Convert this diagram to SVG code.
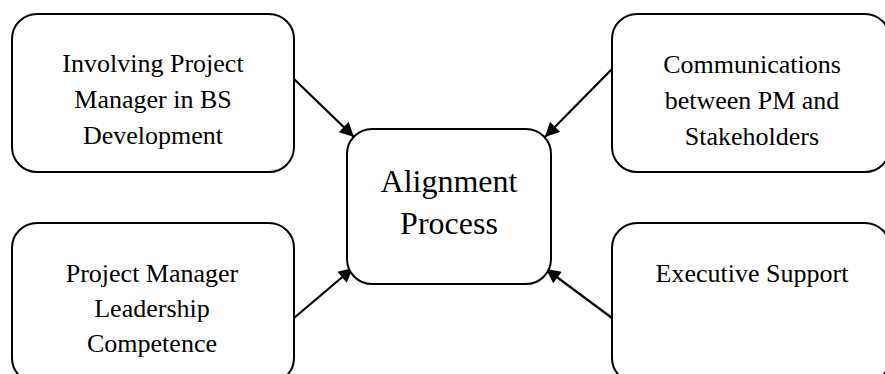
<svg xmlns="http://www.w3.org/2000/svg" width="885" height="374" viewBox="0 0 885 374">
<defs>
<style>
.box{fill:#fff;stroke:#000;stroke-width:2}
.t{font-family:"Liberation Serif","Times New Roman",serif;font-size:26px;fill:#000;text-anchor:middle}
.tc{font-family:"Liberation Serif","Times New Roman",serif;font-size:32px;fill:#000;text-anchor:middle}
.c{stroke:#000;stroke-width:2.2;fill:none;marker-end:url(#ah)}
</style>
<marker id="ah" viewBox="0 0 10 10" refX="10" refY="5" markerWidth="7" markerHeight="6.5" markerUnits="strokeWidth" orient="auto">
<path d="M0,0 L10,5 L0,10 z" fill="#000"/>
</marker>
</defs>
<rect width="885" height="374" fill="#fff"/>
<g id="connectors">
<line class="c" x1="294" y1="79" x2="354" y2="137"/>
<line class="c" x1="612" y1="69" x2="545" y2="137"/>
<line class="c" x1="294" y1="318" x2="353" y2="268"/>
<line class="c" x1="612" y1="318" x2="546" y2="269"/>
</g>
<g id="node-involving">
<rect class="box" x="12" y="14" width="282" height="158" rx="25"/>
<text class="t" x="153" y="72">Involving Project</text>
<text class="t" x="153" y="108">Manager in BS</text>
<text class="t" x="153" y="144">Development</text>
</g>
<g id="node-communications">
<rect class="box" x="612" y="14" width="278" height="158" rx="25"/>
<text class="t" x="752" y="73">Communications</text>
<text class="t" x="752" y="109">between PM and</text>
<text class="t" x="752" y="145">Stakeholders</text>
</g>
<g id="node-leadership">
<rect class="box" x="12" y="223" width="282" height="160" rx="25"/>
<text class="t" x="152" y="282">Project Manager</text>
<text class="t" x="152" y="317">Leadership</text>
<text class="t" x="152" y="352">Competence</text>
</g>
<g id="node-executive">
<rect class="box" x="612" y="223" width="278" height="160" rx="25"/>
<text class="t" x="752" y="282">Executive Support</text>
</g>
<g id="node-alignment">
<rect class="box" x="347" y="129" width="204" height="155" rx="25"/>
<text class="tc" x="449" y="192">Alignment</text>
<text class="tc" x="449" y="234">Process</text>
</g>
</svg>
